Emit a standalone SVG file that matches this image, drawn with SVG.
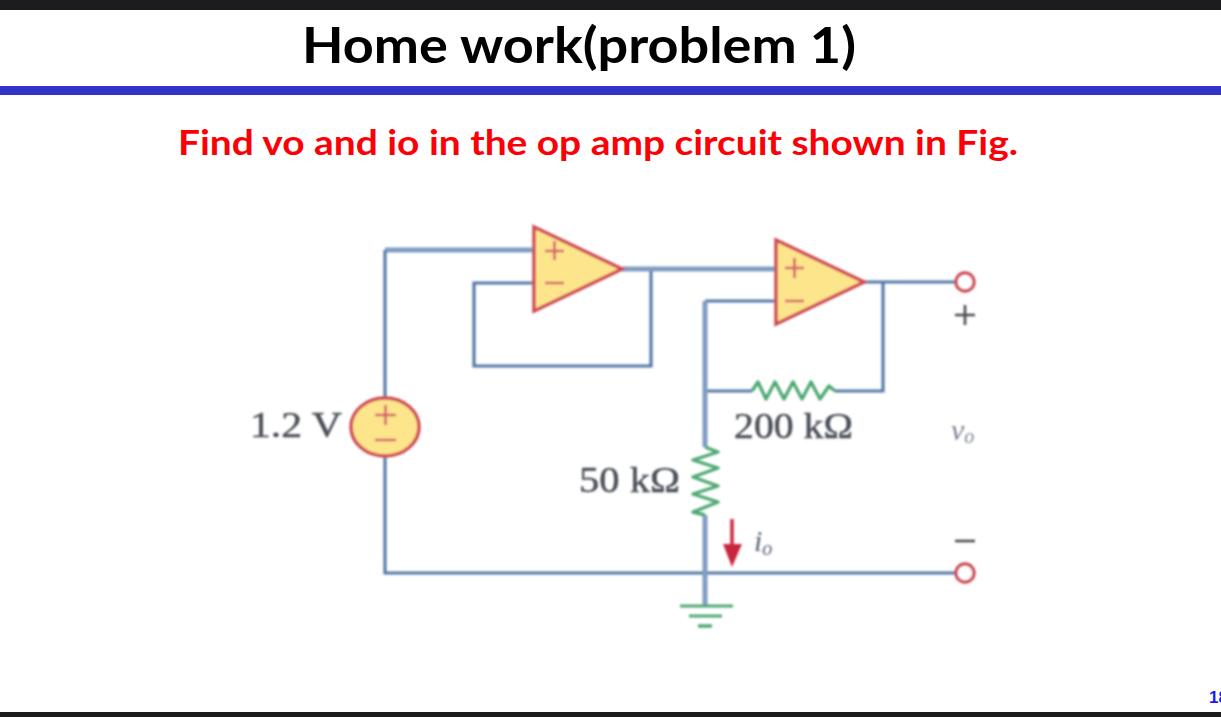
<svg xmlns="http://www.w3.org/2000/svg" width="1221" height="717" viewBox="0 0 1221 717">
<defs><filter id="soft" x="-5%" y="-5%" width="110%" height="110%"><feGaussianBlur stdDeviation="0.9"/></filter></defs>
<style>
.w{fill:none;stroke:#5479a8;stroke-width:3.2;stroke-linejoin:miter}
.wt{fill:none;stroke:#7f9cc2;stroke-width:5}
.amp{fill:#fde58c;stroke:#cf4a55;stroke-width:3.5;stroke-linejoin:miter}
.sym{fill:none;stroke:#d4606a;stroke-width:2.6}
.res{fill:none;stroke:#4fa872;stroke-width:3.4;stroke-linejoin:round}
.term{fill:#fff;stroke:#cf4a55;stroke-width:3.4}
.gnd{stroke:#4fa872;fill:none}
.lab{font-family:"Liberation Serif","Times New Roman",serif;font-size:36px;fill:#4a4f58;stroke:#4a4f58;stroke-width:.5}
.h{font-family:Lato,"Open Sans",sans-serif;font-weight:700}
.k{stroke:#4a4a50;stroke-width:2.6;fill:none}
</style>
<rect width="1221" height="717" fill="#fff"/>
<rect id="bar-top" x="0" y="0" width="1221" height="10" fill="#1c1c1e"/>
<rect id="bar-bottom" x="0" y="712" width="1221" height="5" fill="#1c1c1e"/>
<rect id="rule" x="0" y="86" width="1221" height="9" fill="#3333cc"/>
<text class="h" x="302" y="63" font-size="50" fill="#000" textLength="554" lengthAdjust="spacingAndGlyphs">Home work(problem 1)</text>
<text class="h" x="178" y="155" font-size="35" fill="#fb0006" textLength="840" lengthAdjust="spacingAndGlyphs">Find vo and io in the op amp circuit shown in Fig.</text>
<text x="1209" y="703" font-family="Liberation Sans,sans-serif" font-size="17" font-weight="700" fill="#1a1aee">18</text>
<g filter="url(#soft)">
<g id="connectors">
<path class="wt" d="M534 250H385"/>
<path class="w" d="M385 250V398M385 457V573H955"/>
<path class="w" d="M534 283H474V366H651V269"/>
<path class="wt" d="M622 269H776"/>
<path class="w" d="M776 301H705M705 391H752M835 391H883V282M864 282H956"/>
<path class="wt" d="M705 301V447M705 515V606"/>
</g>
<g id="opamp1"><path class="amp" d="M534 227V311L622 269Z"/><path class="sym" d="M545 251H564M554.500 241V260M545 283H564"/></g>
<g id="opamp2"><path class="amp" d="M776 240V324L864 282Z"/><path class="sym" d="M785 268H804M794.500 258V278M785 301H804"/></g>
<g id="source"><ellipse cx="385" cy="427" rx="34" ry="29" fill="#fde58c" stroke="#cf4a55" stroke-width="3.500"/><path class="sym" d="M375 415H396M385.500 405V425M375 440H396"/><text class="lab" x="250" y="437" textLength="92" lengthAdjust="spacingAndGlyphs">1.2 V</text></g>
<g id="r200"><path class="res" d="M752 391L758 382L766 399L775 382L784 399L793 382L802 399L811 382L820 399L829 386L835 391"/><text class="lab" x="734" y="438" textLength="119" lengthAdjust="spacingAndGlyphs">200 kΩ</text></g>
<g id="r50"><path class="res" d="M705 447L718 452L693 460L718 468L693 477L718 486L693 494L718 502L693 512L705 515"/><text class="lab" x="579" y="492" textLength="101" lengthAdjust="spacingAndGlyphs">50 kΩ</text></g>
<g id="io"><path d="M732 519V548" stroke="#c8283c" stroke-width="3.500" fill="none"/><path d="M723 544H742L732 567Z" fill="#c8283c"/><text x="754" y="551" font-family="Liberation Serif,serif" font-style="italic" font-size="30" fill="#56607a">i<tspan font-size="20" dy="4">o</tspan></text></g>
<g id="ground"><path class="gnd" stroke-width="3" d="M680 606H733"/><path class="gnd" stroke-width="3" d="M689 616H722"/><path class="gnd" stroke-width="3.500" d="M698 626H712"/></g>
<g id="terminal-top"><circle class="term" cx="965" cy="282" r="9"/><path class="k" d="M955 315H975M965 305V325"/></g>
<g id="terminal-bottom"><circle class="term" cx="965" cy="573" r="9"/><path class="k" d="M955 541H975"/></g>
<text id="vo" x="951" y="440" font-family="Liberation Serif,serif" font-style="italic" font-size="30" fill="#7a8090">v<tspan font-size="20" dy="3">o</tspan></text>
</g>
</svg>
